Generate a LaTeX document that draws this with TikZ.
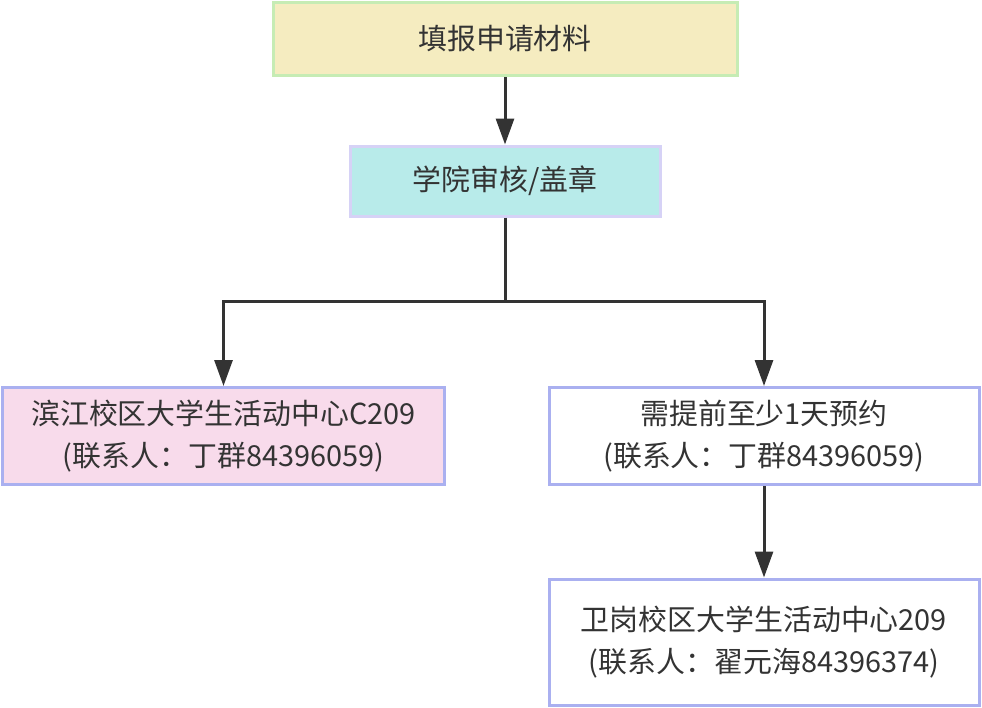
\documentclass[tikz,border=0pt]{standalone}
\usepackage{fontspec}
\setmainfont{Noto Sans CJK SC}
\usetikzlibrary{arrows.meta}
\definecolor{yfill}{HTML}{F5ECC0}
\definecolor{gborder}{HTML}{C6ECB4}
\definecolor{cfill}{HTML}{B8EBEA}
\definecolor{lborder}{HTML}{D6D2F6}
\definecolor{pfill}{HTML}{F8DBEB}
\definecolor{bborder}{HTML}{AAB0F0}
\definecolor{linec}{HTML}{333333}
\definecolor{textc}{HTML}{333333}
\begin{document}
\begin{tikzpicture}[x=1pt,y=-1pt,
  box/.style={draw=bborder, line width=3pt, fill=white, inner sep=0pt, align=center,
    text=textc, font=\fontsize{28.9}{42}\selectfont},
  conn/.style={draw=linec, line width=3pt, -{Triangle[length=26pt,width=18pt]}},
  plain/.style={draw=linec, line width=3pt}]
\useasboundingbox (0,0) rectangle (982,707);
\node[box, draw=gborder, fill=yfill, minimum width=464pt, minimum height=73pt] (a) at (505,39) {填报申请材料};
\node[box, draw=lborder, fill=cfill, minimum width=310pt, minimum height=70pt] (b) at (505,181) {学院审核/盖章};
\node[box, fill=pfill, minimum width=442pt, minimum height=97pt] (c) at (223.5,436) {滨江校区大学生活动中心C209\\(联系人：丁群84396059)};
\node[box, minimum width=430pt, minimum height=97pt] (d) at (764,436) {需提前至少1天预约\\(联系人：丁群84396059)};
\node[box, minimum width=430pt, minimum height=126pt] (e) at (764,642) {卫岗校区大学生活动中心209\\(联系人：翟元海84396374)};
\coordinate (j) at (505,301);
\draw[conn] (a.south) -- (b.north);
\draw[plain] (b.south) -- (j);
\draw[conn] (j) -| (c.north);
\draw[conn] (j) -| (d.north);
\draw[conn] (d.south) -- (e.north);
\end{tikzpicture}
\end{document}
